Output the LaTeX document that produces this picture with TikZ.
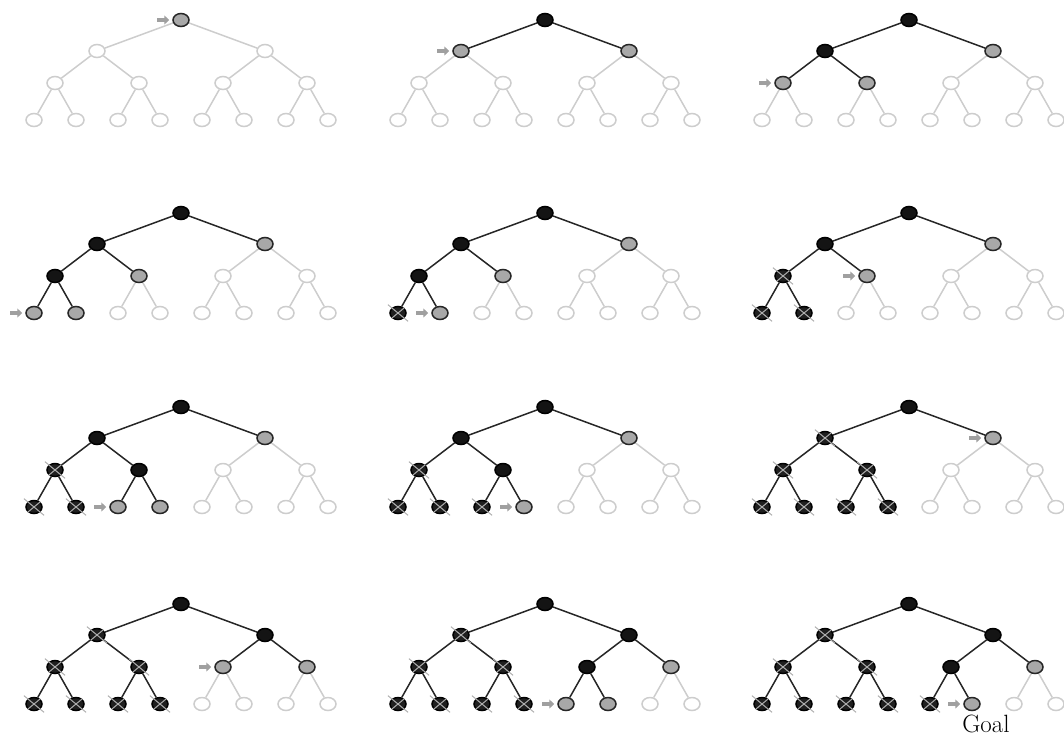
\documentclass[tikz,border=0pt]{standalone}
\usepackage{tikz}
\usetikzlibrary{shapes.geometric,arrows.meta,positioning,backgrounds}
\definecolor{fringegray}{RGB}{168,168,168}
\definecolor{palegray}{RGB}{205,205,205}
\definecolor{crossgray}{RGB}{175,175,175}
\definecolor{arrowgray}{RGB}{160,160,160}

% offsets of the 15 tree nodes from the root, in heap order
\def\tx{{0,-84,84,-126,-42,42,126,-147,-105,-63,-21,21,63,105,147}}
\def\ty{{0,31,31,63,63,63,63,100,100,100,100,100,100,100,100}}

\begin{document}
\begin{tikzpicture}[
        x=1pt, y=-1pt,
        every node/.style={inner sep=0pt},
        tnode/.style={ellipse, minimum width=16pt, minimum height=13pt, line width=1.5pt},
        st-u/.style={tnode, draw=palegray, fill=white},
        st-f/.style={tnode, draw=black!85, fill=fringegray},
        st-e/.style={tnode, draw=black, fill=black!92},
        st-x/.style={tnode, draw=black, fill=black!88},
        lk-u/.style={draw=palegray, line width=1.5pt},
        lk-f/.style={draw=black!85, line width=1.5pt},
        lk-e/.style={lk-f},
        lk-x/.style={lk-f},
        xm-u/.style={draw=none},
        xm-f/.style={draw=none},
        xm-e/.style={draw=none},
        xm-x/.style={draw=crossgray, line width=1pt, shorten <=-5pt, shorten >=-5pt},
        nextarrow/.style={draw=arrowgray, line width=4pt, -{Triangle[length=5pt,width=9pt]}},
        goaltext/.style={font=\fontsize{25}{30}\selectfont}
    ]
    \useasboundingbox (0,0) rectangle (1064,737);

    % panel / root x / root y / node to expand next / states A..O
    \foreach \k/\cx/\cy/\nxt/\st in {
        1/181/20/1/{f,u,u,u,u,u,u,u,u,u,u,u,u,u,u},
        2/545/20/2/{e,f,f,u,u,u,u,u,u,u,u,u,u,u,u},
        3/909/20/4/{e,e,f,f,f,u,u,u,u,u,u,u,u,u,u},
        4/181/213/8/{e,e,f,e,f,u,u,f,f,u,u,u,u,u,u},
        5/545/213/9/{e,e,f,e,f,u,u,x,f,u,u,u,u,u,u},
        6/909/213/5/{e,e,f,x,f,u,u,x,x,u,u,u,u,u,u},
        7/181/407/10/{e,e,f,x,e,u,u,x,x,f,f,u,u,u,u},
        8/545/407/11/{e,e,f,x,e,u,u,x,x,x,f,u,u,u,u},
        9/909/407/3/{e,x,f,x,x,u,u,x,x,x,x,u,u,u,u},
        10/181/604/6/{e,x,e,x,x,f,f,x,x,x,x,u,u,u,u},
        11/545/604/12/{e,x,e,x,x,e,f,x,x,x,x,f,f,u,u},
        12/909/604/13/{e,x,e,x,x,e,f,x,x,x,x,x,f,u,u}}
    {
        \foreach \s [count=\i] in \st {
            \pgfmathsetmacro\dx{\tx[\i-1]}
            \pgfmathsetmacro\dy{\ty[\i-1]}
            \node[st-\s] (p\k-\i) at (\cx+\dx,\cy+\dy) {};
            \draw[xm-\s] (p\k-\i.north east) -- (p\k-\i.south west)
                         (p\k-\i.north west) -- (p\k-\i.south east);
            \ifnum\i>1
                \pgfmathtruncatemacro\up{\i/2}
                \begin{pgfonlayer}{background}
                    \draw[lk-\s] (p\k-\up) -- (p\k-\i);
                \end{pgfonlayer}
            \fi
        }
        \draw[nextarrow] ([xshift=-15]p\k-\nxt.west) -- ([xshift=-3]p\k-\nxt.west);
    }

    \node[goaltext, anchor=base] (goal) at ([shift={(14,21)}]p12-13.south) {Goal};
\end{tikzpicture}
\end{document}
